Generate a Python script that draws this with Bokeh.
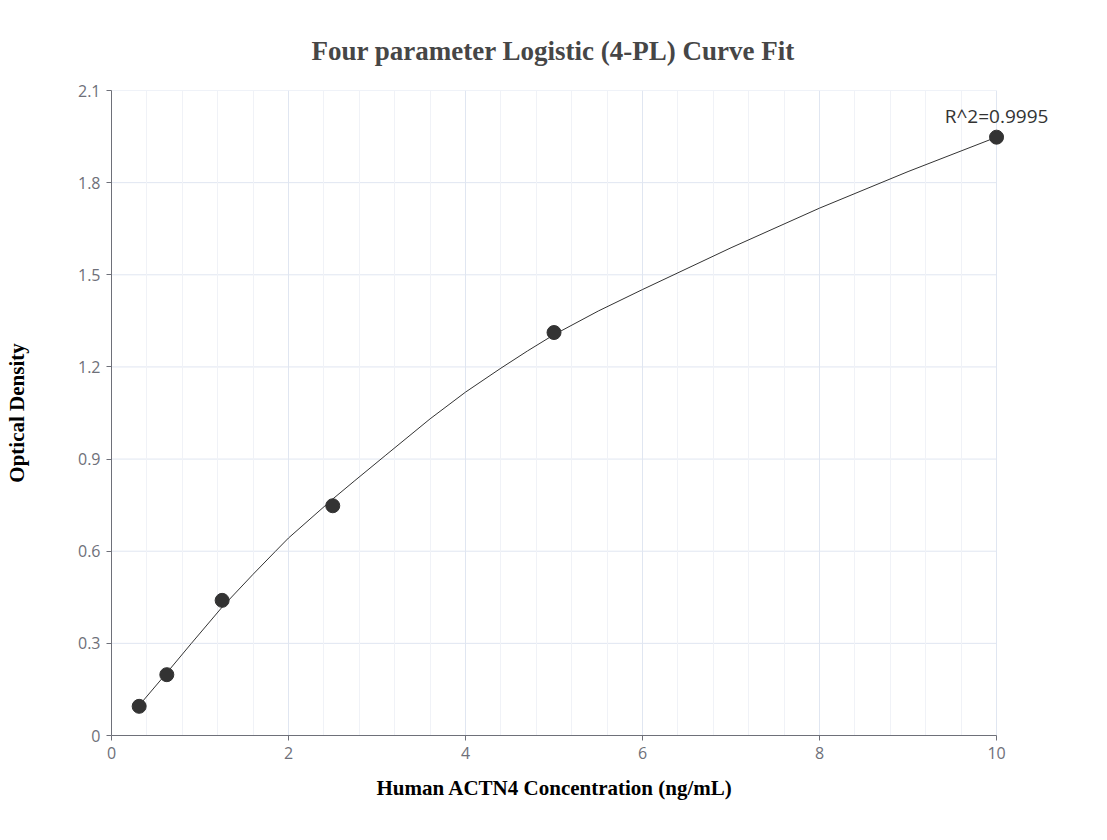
from bokeh.plotting import figure
from bokeh.models import Range1d, SingleIntervalTicker, FixedTicker, Label, ColumnDataSource, Title
from bokeh.embed import file_html
from bokeh.resources import INLINE

# Standard points (concentration ng/mL, optical density)
conc = [0.3125, 0.625, 1.25, 2.5, 5.0, 10.0]
od = [0.095, 0.198, 0.44, 0.748, 1.312, 1.948]

# Fitted 4-PL curve
curve_x = [0.3125, 0.625, 0.9, 1.25, 1.6, 1.85, 2.0, 2.5, 2.75, 3.1, 3.6, 4.0, 4.4,
           4.7, 5.0, 5.5, 6.0, 7.0, 8.0, 9.0, 10.0]
curve_y = [0.098, 0.204, 0.299, 0.418, 0.525, 0.599, 0.643, 0.77, 0.83, 0.913, 1.031, 1.118, 1.196,
           1.252, 1.305, 1.382, 1.452, 1.588, 1.717, 1.836, 1.948]

x_min, x_max = 0, 10
y_ticks = [0, 0.3, 0.6, 0.9, 1.2, 1.5, 1.8, 2.1]
y_tick_labels = ["0", "0.3", "0.6", "0.9", "1.2", "1.5", "1.8", "2.1"]
r2_text = "R^2=0.9995"
x_title = "Human ACTN4 Concentration (ng/mL)"

# frame extends a bit past x=10 so the last marker and its label are not clipped
p = figure(width=1090, height=820, output_backend="svg", toolbar_location=None,
           x_range=Range1d(0, 10.7), y_range=Range1d(0, 2.1),
           min_border_left=111, min_border_right=32, min_border_top=90, min_border_bottom=85)
p.outline_line_color = None
p.background_fill_color = "white"
p.border_fill_color = "white"

p.title.text = "Four parameter Logistic (4-PL) Curve Fit"
p.title.align = "left"
p.title.text_font = "Liberation Serif"
p.title.text_font_size = "27px"
p.title.text_font_style = "bold"
p.title.text_color = "#464646"
p.title.offset = 200
p.title.standoff = 50

# axes
p.xaxis.ticker = SingleIntervalTicker(interval=2, num_minor_ticks=5)
p.xaxis.bounds = (x_min, x_max)
p.yaxis.ticker = FixedTicker(ticks=y_ticks)
p.yaxis.major_label_overrides = {t: l for t, l in zip(y_ticks, y_tick_labels)}

for ax in (p.xaxis[0], p.yaxis[0]):
    ax.axis_line_color = "#6e7079"
    ax.major_tick_line_color = "#6e7079"
    ax.major_tick_out = 5
    ax.major_tick_in = 0
    ax.minor_tick_line_color = None
    ax.major_label_text_color = "#6e7079"
    ax.major_label_text_font = "Open Sans"
    ax.major_label_text_font_size = "16px"
    ax.axis_label_text_font = "Liberation Serif"
    ax.axis_label_text_font_style = "bold"
    ax.axis_label_text_font_size = "21px"
    ax.axis_label_text_color = "black"

p.xaxis.major_label_standoff = 6
p.yaxis.axis_label = "Optical Density"
p.yaxis.axis_label_standoff = 46
p.yaxis.major_label_standoff = 6

# x-axis title as a below-title so it can be centred on the page like the reference
p.add_layout(Title(text=x_title, align="left", offset=265, standoff=25,
                   text_font="Liberation Serif", text_font_style="bold",
                   text_font_size="21px", text_color="black"), "below")

p.xgrid.grid_line_color = "#e0e6f1"
p.xgrid.minor_grid_line_color = "#f0f2f7"
p.xgrid.bounds = (x_min, x_max)
p.ygrid.grid_line_color = None
# horizontal grid lines only across the axis extent
p.segment(x0=[x_min] * len(y_ticks), x1=[x_max] * len(y_ticks), y0=y_ticks, y1=y_ticks,
          line_color="#e0e6f1", line_width=1, level="underlay")

p.line(curve_x, curve_y, line_color="#333333", line_width=1)
src = ColumnDataSource(dict(x=conc, y=od))
p.scatter("x", "y", source=src, size=14, fill_color="#333333", line_color="#333333")

p.add_layout(Label(x=conc[-1], y=od[-1], text=r2_text, text_align="center",
                   text_baseline="bottom", y_offset=8, text_font="Open Sans",
                   text_font_size="19px", text_color="#333333"))

open("out.html", "w").write(file_html(p, INLINE))
